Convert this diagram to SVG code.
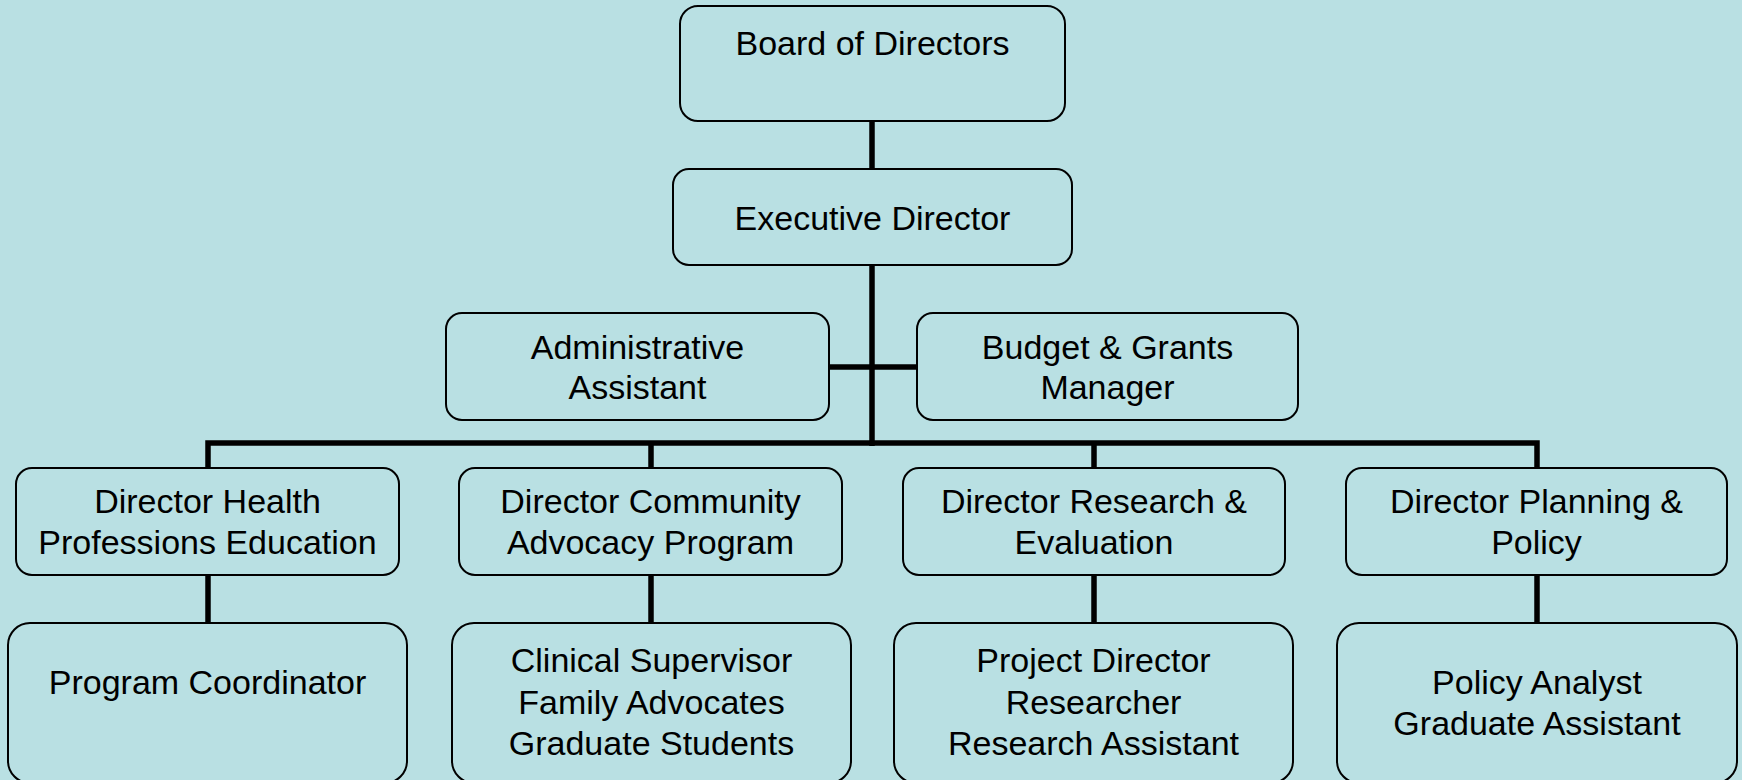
<svg xmlns="http://www.w3.org/2000/svg" width="1742" height="780" viewBox="0 0 1742 780">
<style>
.bg{fill:#B9E0E3}
.box{fill:#B9E0E3;stroke:#000;stroke-width:2}
.t{font-family:"Liberation Sans",Arial,sans-serif;font-size:34px;fill:#000;text-anchor:middle}
.c{stroke:#000;stroke-width:5.5;fill:none}
</style>
<rect class="bg" x="0" y="0" width="1742" height="780"/>
<g id="connectors">
<line class="c" x1="872" y1="121" x2="872" y2="169"/>
<line class="c" x1="872" y1="265" x2="872" y2="446"/>
<line class="c" x1="829" y1="367" x2="917" y2="367"/>
<polyline class="c" points="208,468 208,443 1537,443 1537,468"/>
<line class="c" x1="651" y1="443" x2="651" y2="468"/>
<line class="c" x1="1094" y1="443" x2="1094" y2="468"/>
<line class="c" x1="208" y1="575" x2="208" y2="623"/>
<line class="c" x1="651" y1="575" x2="651" y2="623"/>
<line class="c" x1="1094" y1="575" x2="1094" y2="623"/>
<line class="c" x1="1537" y1="575" x2="1537" y2="623"/>
</g>
<g id="board"><rect class="box" x="680" y="6" width="385" height="115" rx="18"/><text class="t" x="872.5" y="55">Board of Directors</text></g>
<g id="exec"><rect class="box" x="673" y="169" width="399" height="96" rx="16"/><text class="t" x="872.5" y="230">Executive Director</text></g>
<g id="admin"><rect class="box" x="446" y="313" width="383" height="107" rx="16"/><text class="t" x="637.5" y="359">Administrative</text><text class="t" x="637.5" y="399">Assistant</text></g>
<g id="budget"><rect class="box" x="917" y="313" width="381" height="107" rx="16"/><text class="t" x="1107.5" y="359">Budget &amp; Grants</text><text class="t" x="1107.5" y="399">Manager</text></g>
<g id="dir-health"><rect class="box" x="16" y="468" width="383" height="107" rx="16"/><text class="t" x="207.5" y="513">Director Health</text><text class="t" x="207.5" y="554">Professions Education</text></g>
<g id="dir-community"><rect class="box" x="459" y="468" width="383" height="107" rx="16"/><text class="t" x="650.5" y="513">Director Community</text><text class="t" x="650.5" y="554">Advocacy Program</text></g>
<g id="dir-research"><rect class="box" x="903" y="468" width="382" height="107" rx="16"/><text class="t" x="1094" y="513">Director Research &amp;</text><text class="t" x="1094" y="554">Evaluation</text></g>
<g id="dir-planning"><rect class="box" x="1346" y="468" width="381" height="107" rx="16"/><text class="t" x="1536.5" y="513">Director Planning &amp;</text><text class="t" x="1536.5" y="554">Policy</text></g>
<g id="program-coord"><rect class="box" x="8" y="623" width="399" height="160" rx="22"/><text class="t" x="207.5" y="694">Program Coordinator</text></g>
<g id="community-staff"><rect class="box" x="452" y="623" width="399" height="160" rx="22"/><text class="t" x="651.5" y="672">Clinical Supervisor</text><text class="t" x="651.5" y="714">Family Advocates</text><text class="t" x="651.5" y="755">Graduate Students</text></g>
<g id="research-staff"><rect class="box" x="894" y="623" width="399" height="160" rx="22"/><text class="t" x="1093.5" y="672">Project Director</text><text class="t" x="1093.5" y="714">Researcher</text><text class="t" x="1093.5" y="755">Research Assistant</text></g>
<g id="policy-staff"><rect class="box" x="1337" y="623" width="400" height="160" rx="22"/><text class="t" x="1537" y="694">Policy Analyst</text><text class="t" x="1537" y="735">Graduate Assistant</text></g>
</svg>
